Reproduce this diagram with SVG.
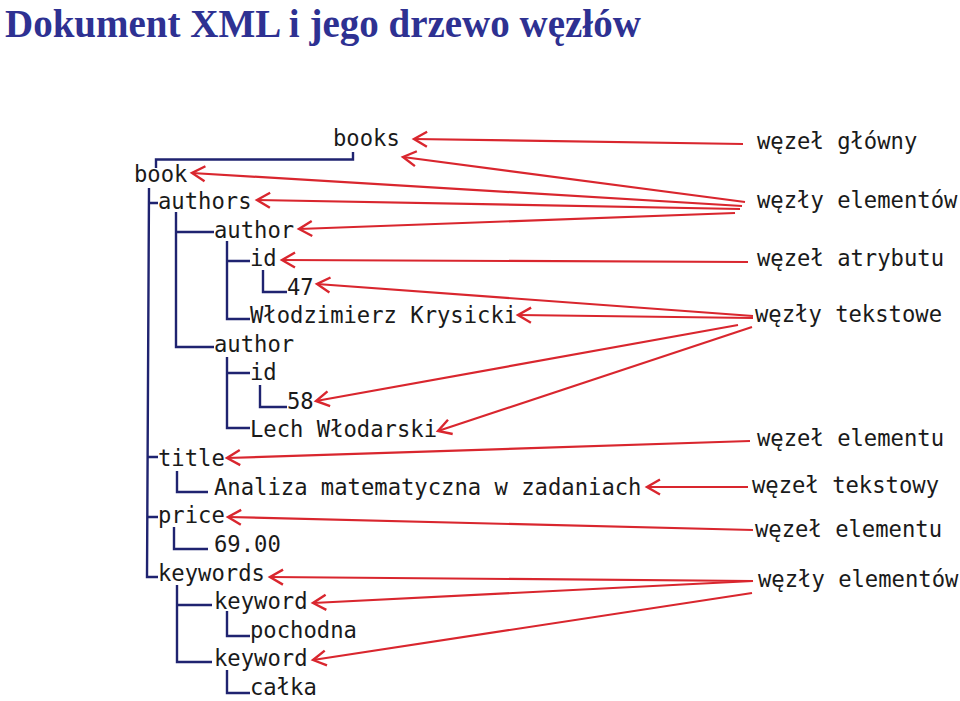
<svg xmlns="http://www.w3.org/2000/svg" width="960" height="701" viewBox="0 0 960 701">
<style>
.t{font-family:"DejaVu Sans Mono","Liberation Mono",monospace;font-size:22.2px;fill:#1a1a1a}
.h{font-family:"Liberation Serif","Times New Roman",serif;font-size:39px;font-weight:bold;fill:#2e3192}
.tree path{fill:none;stroke:#1f2370;stroke-width:2.4}
.arr line{stroke:#d9262e;stroke-width:2.2;marker-end:url(#v)}
</style>
<defs>
<marker id="v" markerUnits="userSpaceOnUse" viewBox="-16 -10 20 20" refX="0" refY="0" markerWidth="20" markerHeight="20" orient="auto">
<path d="M-13,-7.5 L0,0 L-13,7.5" fill="none" stroke="#d9262e" stroke-width="2.4"/>
</marker>
</defs>
<rect width="960" height="701" fill="#fff"/>
<text class="h" x="5" y="37">Dokument XML i jego drzewo węzłów</text>

<g id="tree-lines" class="tree">
<path d="M353,152 V159.5 H156 V168"/>
<path d="M149,188 L147,577 H158"/>
<path d="M148,203 H158 M148,457 H158 M147,517 H158"/>
<path d="M176,212 V347 H214 M176,232 H214"/>
<path d="M227,241 V319 H250 M227,261 H250"/>
<path d="M263,270 V292 H287"/>
<path d="M227,357 V428 H250 M227,373 H250"/>
<path d="M260,385 V407 H287"/>
<path d="M177,471 V492 H208"/>
<path d="M174,527 V549 H208"/>
<path d="M177,585 V662 H212 M177,605 H212"/>
<path d="M227,611 V636 H250"/>
<path d="M227,670 V693 H250"/>
</g>

<g id="n-books"><text class="t" x="333" y="146">books</text></g>
<g id="n-book"><text class="t" x="134" y="181.5">book</text></g>
<g id="n-authors"><text class="t" x="158" y="209">authors</text></g>
<g id="n-author1"><text class="t" x="214" y="237.5">author</text></g>
<g id="n-id1"><text class="t" x="250" y="266">id</text></g>
<g id="n-47"><text class="t" x="287" y="294.5">47</text></g>
<g id="n-krysicki"><text class="t" x="250" y="323">Włodzimierz Krysicki</text></g>
<g id="n-author2"><text class="t" x="214" y="351.5">author</text></g>
<g id="n-id2"><text class="t" x="250" y="380">id</text></g>
<g id="n-58"><text class="t" x="287" y="408.5">58</text></g>
<g id="n-wlodarski"><text class="t" x="250" y="437">Lech Włodarski</text></g>
<g id="n-title"><text class="t" x="158" y="466">title</text></g>
<g id="n-analiza"><text class="t" x="214" y="494.5">Analiza matematyczna w zadaniach</text></g>
<g id="n-price"><text class="t" x="158" y="523">price</text></g>
<g id="n-6900"><text class="t" x="214" y="551.5">69.00</text></g>
<g id="n-keywords"><text class="t" x="158" y="580.5">keywords</text></g>
<g id="n-keyword1"><text class="t" x="214" y="609">keyword</text></g>
<g id="n-pochodna"><text class="t" x="250" y="637.5">pochodna</text></g>
<g id="n-keyword2"><text class="t" x="214" y="666">keyword</text></g>
<g id="n-calka"><text class="t" x="250" y="694.5">całka</text></g>

<g id="l-glowny"><text class="t" x="757" y="149">węzeł główny</text></g>
<g id="l-elementow1"><text class="t" x="757" y="208">węzły elementów</text></g>
<g id="l-atrybutu"><text class="t" x="757" y="266">węzeł atrybutu</text></g>
<g id="l-tekstowe"><text class="t" x="755" y="322">węzły tekstowe</text></g>
<g id="l-elementu1"><text class="t" x="757" y="446">węzeł elementu</text></g>
<g id="l-tekstowy"><text class="t" x="752" y="493">węzeł tekstowy</text></g>
<g id="l-elementu2"><text class="t" x="755" y="537">węzeł elementu</text></g>
<g id="l-elementow2"><text class="t" x="758" y="587">węzły elementów</text></g>

<g id="connectors" class="arr">
<line x1="743" y1="144" x2="414" y2="139"/>
<line x1="745" y1="202" x2="403" y2="157"/>
<line x1="742" y1="206" x2="192" y2="173"/>
<line x1="740" y1="209" x2="257" y2="200"/>
<line x1="735" y1="213" x2="299" y2="229"/>
<line x1="748" y1="262" x2="282" y2="260"/>
<line x1="753" y1="316" x2="317" y2="284"/>
<line x1="753" y1="318" x2="518" y2="315"/>
<line x1="738" y1="325" x2="316" y2="401"/>
<line x1="752" y1="327" x2="438" y2="431"/>
<line x1="750" y1="441" x2="227" y2="458"/>
<line x1="748" y1="487" x2="647" y2="487"/>
<line x1="753" y1="530" x2="228" y2="517"/>
<line x1="753" y1="581" x2="270" y2="577"/>
<line x1="753" y1="581" x2="313" y2="603"/>
<line x1="752" y1="593" x2="313" y2="660"/>
</g>
</svg>
